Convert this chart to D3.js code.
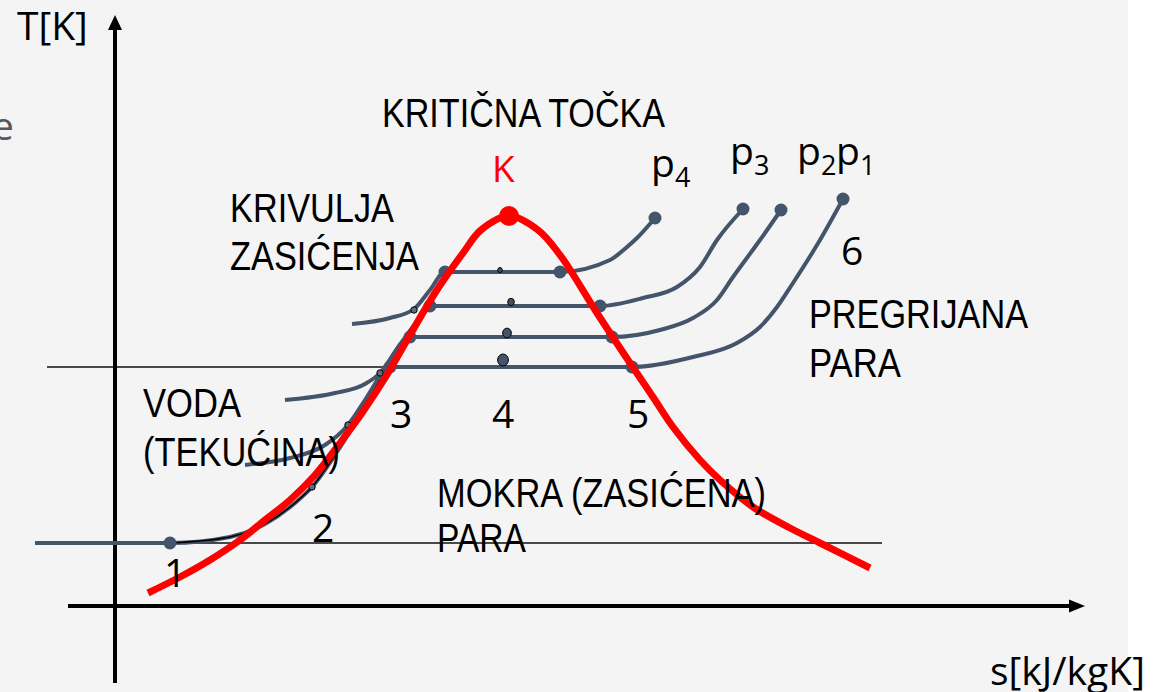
<!DOCTYPE html>
<html>
<head>
<meta charset="utf-8">
<script src="https://cdnjs.cloudflare.com/ajax/libs/d3/7.8.5/d3.min.js"></script>
<style>
    html, body { margin: 0; padding: 0; background: #fff; }
    svg { display: block; }
    .lbl { font-family: "Liberation Sans Narrow", "Liberation Sans", Arial, sans-serif; font-size: 40px; fill: #000; }
    .sym { font-family: "Open Sans", "Noto Sans", sans-serif; font-size: 39px; fill: #000; }
</style>
</head>
<body>
<div id="chart"></div>
<script>
// s [kJ/kgK] and T [K], in arbitrary diagram units
const saturation = [
    [3.3, 1.3], [6.5, 2.9], [9.5, 4.6], [12.5, 6.6], [15.0, 8.6], [17.5, 10.6],
    [20.0, 13.1], [22.5, 16.3], [24.7, 19.3], [27.0, 22.8], [29.5, 27.1], [32.0, 31.3],
    [34.8, 35.3], [36.6, 37.6], [39.4, 39.0], [42.3, 37.6], [44.5, 35.1], [48.2, 29.3],
    [51.5, 24.3], [53.8, 20.9], [55.8, 17.9], [58.5, 14.6], [60.5, 12.6], [63.8, 9.9],
    [67.5, 7.8], [70.5, 6.3], [75.5, 3.8]
];
const criticalPoint = [39.4, 39.0];

const isobarP1 = [
    [-8.0, 6.3], [5.5, 6.3], [11.5, 6.9], [15.0, 8.2], [18.0, 10.3], [19.7, 11.9],
    [22.0, 15.1], [24.5, 19.1], [26.5, 22.6], [27.5, 23.9], [51.7, 23.9], [57.8, 24.9],
    [62.2, 26.3], [64.5, 27.9], [66.2, 29.9], [67.8, 32.3], [70.5, 36.6], [72.8, 40.7]
];
const isobarP2 = [
    [13.0, 14.1], [17.5, 14.8], [21.0, 16.1], [23.3, 18.1], [25.0, 20.6], [27.0, 23.8],
    [29.5, 26.9], [49.7, 26.9], [54.5, 27.6], [57.8, 28.8], [60.2, 30.6], [61.8, 32.9],
    [64.5, 36.6], [66.6, 39.6]
];
const isobarP3 = [
    [17.0, 20.6], [22.0, 21.3], [25.0, 22.2], [26.5, 23.3], [28.0, 25.4], [29.7, 27.8],
    [31.5, 30.0], [48.5, 30.0], [52.8, 30.8], [56.2, 31.9], [58.5, 33.9], [60.2, 36.6],
    [62.8, 39.7]
];
const isobarP4 = [
    [23.7, 28.2], [27.5, 28.8], [29.9, 29.7], [31.5, 31.6], [33.0, 33.4], [44.5, 33.4],
    [49.5, 34.6], [51.2, 35.9], [52.2, 36.8], [54.0, 38.8]
];

const endPoints = [[72.8, 40.7], [66.6, 39.6], [62.8, 39.7], [54.0, 38.8]];
const vapourPoints = [[51.7, 23.9], [49.7, 26.9], [48.5, 30.0], [44.5, 33.4]];
const liquidPoints = [[27.5, 23.9], [29.5, 26.9], [31.5, 30.0], [33.0, 33.4]];
const startPoint = [5.5, 6.3];
const liquidMarks = [[19.7, 11.9], [23.3, 18.1], [26.5, 23.3], [29.9, 29.6]];
const wetMarks = [[38.8, 24.6], [39.2, 27.3], [39.6, 30.4], [38.5, 33.6]];

const refLines = [
    { T: 6.3, s0: 5.5, s1: 76.7 },
    { T: 23.9, s0: -6.8, s1: 27.5 }
];

const textLabels = [
    { text: "KRITIČNA TOČKA", s: 26.7, T: 47.9, len: 283 },
    { text: "KRIVULJA", s: 11.5, T: 38.4, len: 164 },
    { text: "ZASIĆENJA", s: 11.5, T: 33.6, len: 189 },
    { text: "PREGRIJANA", s: 69.4, T: 27.8, len: 219 },
    { text: "PARA", s: 69.4, T: 22.9, len: 92 },
    { text: "VODA", s: 2.8, T: 18.9, len: 98 },
    { text: "(TEKUĆINA)", s: 2.8, T: 14.0, len: 197 },
    { text: "MOKRA (ZASIĆENA)", s: 32.2, T: 9.9, len: 329 },
    { text: "PARA", s: 32.2, T: 5.4, len: 89 }
];
const pointLabels = [
    { text: "1", s: 4.9, T: 1.9 },
    { text: "2", s: 19.7, T: 6.4 },
    { text: "3", s: 27.5, T: 17.8 },
    { text: "4", s: 37.7, T: 17.8 },
    { text: "5", s: 51.2, T: 17.8 },
    { text: "6", s: 72.6, T: 34.1 }
];
const isobarLabels = [
    { sub: "4", s: 53.6, T: 42.9 },
    { sub: "3", s: 61.5, T: 44.1 },
    { sub: "2", s: 68.2, T: 44.1 },
    { sub: "1", s: 72.1, T: 44.1 }
];

(() => {
    const width = 1158, height = 692;
    const isobarColor = "#44546a";

    const x = d3.scaleLinear().domain([0, 100]).range([115, 1115]);
    const y = d3.scaleLinear().domain([0, 60]).range([606, 6]);
    const rWet = d3.scaleLinear().domain([0, 3]).range([6, 2.5]);

    const line = d3.line()
        .x(d => x(d[0]))
        .y(d => y(d[1]))
        .curve(d3.curveMonotoneX);

    const smooth = d3.line()
        .x(d => x(d[0]))
        .y(d => y(d[1]))
        .curve(d3.curveCatmullRom.alpha(0.5));

    const svg = d3.select("#chart")
        .append("svg")
        .attr("width", width)
        .attr("height", height);

    svg.append("rect")
        .attr("width", 1128)
        .attr("height", height)
        .attr("fill", "#f4f4f4");

    // thin reference lines
    svg.selectAll(".ref")
        .data(refLines)
        .enter()
        .append("line")
        .attr("x1", d => x(d.s0))
        .attr("x2", d => x(d.s1))
        .attr("y1", d => y(d.T))
        .attr("y2", d => y(d.T))
        .attr("stroke", "#111")
        .attr("stroke-width", 1.4);

    // axes
    const s0 = x(0), t0 = y(0);
    const yTop = y(59.1), xEnd = x(97);
    svg.append("line")
        .attr("x1", s0).attr("x2", s0)
        .attr("y1", y(-7.7)).attr("y2", yTop + 14)
        .attr("stroke", "#000").attr("stroke-width", 4);
    svg.append("path")
        .attr("d", `M${s0},${yTop}L${s0 - 7},${yTop + 15}L${s0 + 7},${yTop + 15}Z`)
        .attr("fill", "#000");
    svg.append("line")
        .attr("x1", x(-4.7)).attr("x2", xEnd - 14)
        .attr("y1", t0).attr("y2", t0)
        .attr("stroke", "#000").attr("stroke-width", 4);
    svg.append("path")
        .attr("d", `M${xEnd},${t0}L${xEnd - 16},${t0 - 6.5}L${xEnd - 16},${t0 + 6.5}Z`)
        .attr("fill", "#000");

    // isobars
    svg.selectAll(".isobar")
        .data([isobarP1, isobarP2, isobarP3, isobarP4])
        .enter()
        .append("path")
        .attr("class", "isobar")
        .attr("d", line)
        .attr("fill", "none")
        .attr("stroke", isobarColor)
        .attr("stroke-width", 4);

    svg.append("path")
        .attr("d", line(isobarP1.slice(1, 9)))
        .attr("fill", "none")
        .attr("stroke", "#000")
        .attr("stroke-width", 1.3);

    svg.selectAll(".node")
        .data([...endPoints, ...vapourPoints, ...liquidPoints, startPoint])
        .enter()
        .append("circle")
        .attr("class", "node")
        .attr("cx", d => x(d[0]))
        .attr("cy", d => y(d[1]))
        .attr("r", 6.5)
        .attr("fill", isobarColor);

    svg.selectAll(".liq")
        .data(liquidMarks)
        .enter()
        .append("circle")
        .attr("cx", d => x(d[0]))
        .attr("cy", d => y(d[1]))
        .attr("r", 3.2)
        .attr("fill", "#5b6b80")
        .attr("stroke", "#000")
        .attr("stroke-width", 1);

    // saturation curve + critical point
    svg.append("path")
        .attr("d", smooth(saturation))
        .attr("fill", "none")
        .attr("stroke", "#ff0000")
        .attr("stroke-width", 7);

    svg.append("circle")
        .attr("cx", x(criticalPoint[0]))
        .attr("cy", y(criticalPoint[1]))
        .attr("r", 10)
        .attr("fill", "#ff0000");

    svg.selectAll(".wet")
        .data(wetMarks)
        .enter()
        .append("ellipse")
        .attr("cx", d => x(d[0]))
        .attr("cy", d => y(d[1]))
        .attr("rx", (d, i) => rWet(i) * 0.9)
        .attr("ry", (d, i) => rWet(i))
        .attr("fill", isobarColor)
        .attr("stroke", "#000")
        .attr("stroke-width", 1);

    // texts
    svg.selectAll(".lbl")
        .data(textLabels)
        .enter()
        .append("text")
        .attr("class", "lbl")
        .attr("x", d => x(d.s))
        .attr("y", d => y(d.T))
        .attr("textLength", d => d.len)
        .attr("lengthAdjust", "spacingAndGlyphs")
        .text(d => d.text);

    svg.selectAll(".num")
        .data(pointLabels)
        .enter()
        .append("text")
        .attr("class", "sym num")
        .attr("x", d => x(d.s))
        .attr("y", d => y(d.T))
        .text(d => d.text);

    const pl = svg.selectAll(".plab")
        .data(isobarLabels)
        .enter()
        .append("text")
        .attr("class", "sym plab")
        .attr("x", d => x(d.s))
        .attr("y", d => y(d.T));
    pl.append("tspan").text("p");
    pl.append("tspan")
        .attr("dy", 10)
        .style("font-size", "27px")
        .text(d => d.sub);

    svg.append("text")
        .attr("class", "sym")
        .attr("x", x(37.7))
        .attr("y", y(42.4))
        .style("fill", "#ff0000")
        .style("font-size", "37px")
        .text("K");

    svg.append("text")
        .attr("class", "sym")
        .attr("x", x(-9.8))
        .attr("y", y(56.6))
        .text("T[K]");

    svg.append("text")
        .attr("class", "sym")
        .attr("x", x(87.5))
        .attr("y", y(-7.9))
        .text("s[kJ/kgK]");

    svg.append("text")
        .attr("class", "sym")
        .attr("x", x(-10.1))
        .attr("y", y(46.6))
        .attr("text-anchor", "end")
        .style("fill", "#595959")
        .text("e");
})();
</script>
</body>
</html>
